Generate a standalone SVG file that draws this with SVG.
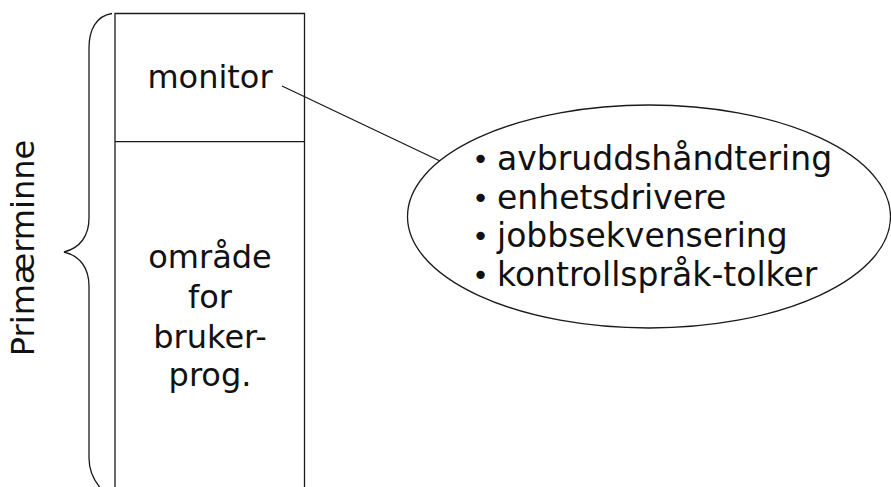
<svg xmlns="http://www.w3.org/2000/svg" width="891" height="487" viewBox="0 0 891 487">
<style>
.ln{fill:none;stroke:#1a1a1a;stroke-width:1.3}
.t{font-family:"DejaVu Sans",sans-serif;font-size:32px;fill:#111}
.b{font-size:33px}
.d{font-size:29px}
.c{text-anchor:middle}
</style>
<rect width="891" height="487" fill="#fff"/>
<g id="memory">
<path class="ln" d="M115,500 V13.5 H304.5 V500"/>
<line class="ln" x1="115" y1="141.7" x2="304.5" y2="141.7"/>
</g>
<g id="monitor">
<text class="t c" x="210" y="88">monitor</text>
</g>
<g id="brukerprog">
<text class="t c" x="210" y="268">område</text>
<text class="t c" x="210" y="308">for</text>
<text class="t c" x="210" y="348">bruker-</text>
<text class="t c" x="210" y="386">prog.</text>
</g>
<g id="brace">
<path class="ln" d="M112,13.5 C96,16 89,30 89,48 V218 C89,236 80,248 64,252 C80,256 89,268 89,286 V458 C89,474 96,484 104,492"/>
<text class="t c" transform="translate(34,248) rotate(-90)">Primærminne</text>
</g>
<g id="details">
<ellipse class="ln" cx="649" cy="216.5" rx="241.5" ry="111.5"/>
<text class="t b" y="170"><tspan class="d" x="472" dy="-1">•</tspan><tspan x="497" dy="1">avbruddshåndtering</tspan></text>
<text class="t b" y="208.5"><tspan class="d" x="472" dy="-1">•</tspan><tspan x="497" dy="1">enhetsdrivere</tspan></text>
<text class="t b" y="247"><tspan class="d" x="472" dy="-1">•</tspan><tspan x="497" dy="1">jobbsekvensering</tspan></text>
<text class="t b" y="285.5"><tspan class="d" x="472" dy="-1">•</tspan><tspan x="497" dy="1">kontrollspråk-tolker</tspan></text>
</g>
<g id="connectors">
<line class="ln" x1="282" y1="86" x2="440" y2="161"/>
</g>
</svg>
